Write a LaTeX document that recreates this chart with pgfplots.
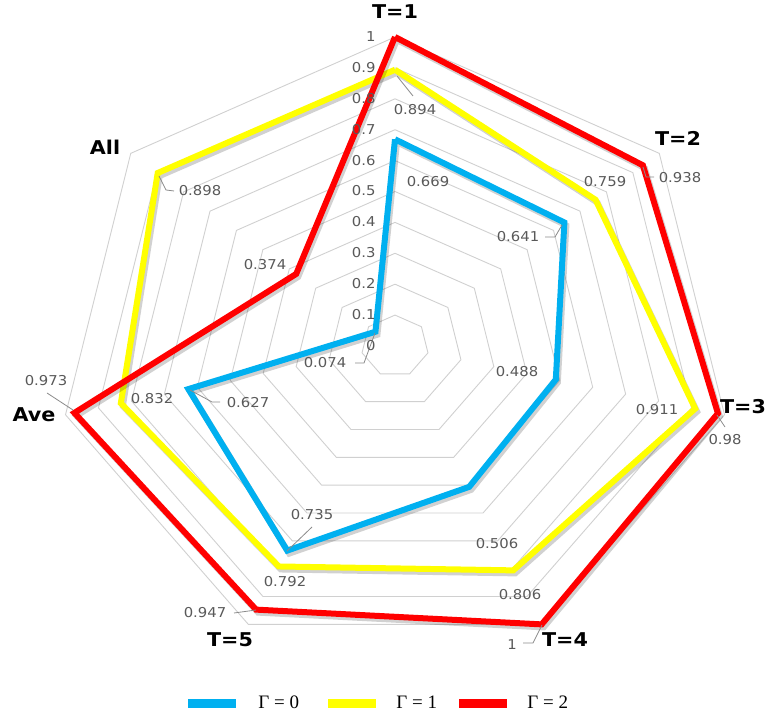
\documentclass[border=0pt]{standalone}
\usepackage{pgfplots}
\pgfplotsset{compat=1.18}
\usepackage{fontspec}
\setmainfont{DejaVu Sans}
\newfontfamily\legfont{Liberation Serif}
\definecolor{cblue}{HTML}{00B0F0}
\definecolor{cyellow}{HTML}{FFFF00}
\definecolor{cred}{HTML}{FF0000}
\definecolor{lblgray}{HTML}{595959}
\definecolor{gridgray}{HTML}{D0D0D0}
\begin{document}
\begin{tikzpicture}
\begin{axis}[
  hide axis, clip=false, enlargelimits=false,
  x=169pt, y=154.5pt,
  xmin=-1.16864, xmax=1.09763, ymin=-1.18447, ymax=1.11974,
]
% grid rings
\pgfplotsinvokeforeach{0.1,0.2,0.3,0.4,0.5,0.6,0.7,0.8,0.9,1}{
  \addplot[gridgray, line width=0.45pt, data cs=polar, forget plot]
    coordinates {(90,#1) (38.5714,#1) (-12.8571,#1) (-64.2857,#1) (-115.7143,#1) (-167.1429,#1) (141.4286,#1) (90,#1)};
}
% shadows
\addplot[black, opacity=0.18, line width=3pt, line join=miter, data cs=polar, xshift=1pt, yshift=-1.5pt, forget plot]
  coordinates {(90,0.669) (38.5714,0.641) (-12.8571,0.488) (-64.2857,0.506) (-115.7143,0.735) (-167.1429,0.627) (141.4286,0.074) (90,0.669)};
\addplot[cblue, line width=3pt, line join=miter, data cs=polar]
  coordinates {(90,0.669) (38.5714,0.641) (-12.8571,0.488) (-64.2857,0.506) (-115.7143,0.735) (-167.1429,0.627) (141.4286,0.074) (90,0.669)};
\addplot[black, opacity=0.18, line width=3pt, line join=miter, data cs=polar, xshift=1pt, yshift=-1.5pt, forget plot]
  coordinates {(90,0.894) (38.5714,0.759) (-12.8571,0.911) (-64.2857,0.806) (-115.7143,0.792) (-167.1429,0.832) (141.4286,0.898) (90,0.894)};
\addplot[cyellow, line width=3pt, line join=miter, data cs=polar]
  coordinates {(90,0.894) (38.5714,0.759) (-12.8571,0.911) (-64.2857,0.806) (-115.7143,0.792) (-167.1429,0.832) (141.4286,0.898) (90,0.894)};
\addplot[black, opacity=0.18, line width=3pt, line join=miter, data cs=polar, xshift=1pt, yshift=-1.5pt, forget plot]
  coordinates {(90,1) (38.5714,0.938) (-12.8571,0.98) (-64.2857,1) (-115.7143,0.947) (-167.1429,0.973) (141.4286,0.374) (90,1)};
\addplot[cred, line width=3pt, line join=miter, data cs=polar]
  coordinates {(90,1) (38.5714,0.938) (-12.8571,0.98) (-64.2857,1) (-115.7143,0.947) (-167.1429,0.973) (141.4286,0.374) (90,1)};
\end{axis}
\begin{scope}[x=0.5pt, y=-0.5pt, yshift=356pt]
  % leader lines
  \begin{scope}[lblgray!70, line width=0.4pt]
    \draw (397,76) -- (413,96);
    \draw (643,167) -- (646,177) -- (654,177);
    \draw (717,415) -- (725,427);
    \draw (542,625) -- (533,643) -- (523,643);
    \draw (256,610) -- (234,613);
    \draw (47,393) -- (73,410);
    \draw (159,176) -- (166,190) -- (174,191);
    \draw (375,333) -- (364,363) -- (355,363);
    \draw (190,390) -- (212,402) -- (220,402);
    \draw (287,551) -- (312,527);
    \draw (545,237) -- (555,237) -- (562,225);
  \end{scope}
  % tick labels
  \begin{scope}[every node/.style={font=\fontsize{6.8}{8}\selectfont, text=lblgray, anchor=east, inner sep=0pt, xscale=1.09}]
    \node at (376,37) {1};
    \node at (376,68) {0.9};
    \node at (376,99) {0.8};
    \node at (376,130) {0.7};
    \node at (376,161) {0.6};
    \node at (376,191) {0.5};
    \node at (376,222) {0.4};
    \node at (376,253) {0.3};
    \node at (376,284) {0.2};
    \node at (376,315) {0.1};
    \node at (376,346) {0};
  \end{scope}
  % data labels
  \begin{scope}[every node/.style={font=\fontsize{6.8}{8}\selectfont, text=lblgray, inner sep=0pt, xscale=1.09}]
    \node at (415,110) {0.894};
    \node at (428,182) {0.669};
    \node at (518,237) {0.641};
    \node at (605,182) {0.759};
    \node at (680,178) {0.938};
    \node at (517,372) {0.488};
    \node at (657,410) {0.911};
    \node at (725,440) {0.98};
    \node at (497,544) {0.506};
    \node at (520,595) {0.806};
    \node at (512,645) {1};
    \node at (312,515) {0.735};
    \node at (285,582) {0.792};
    \node at (205,613) {0.947};
    \node at (248,403) {0.627};
    \node at (152,399) {0.832};
    \node at (46,381) {0.973};
    \node at (265,265) {0.374};
    \node at (200,191) {0.898};
    \node at (325,363) {0.074};
  \end{scope}
  % category labels
  \begin{scope}[every node/.style={font=\fontsize{9.5}{11}\selectfont\bfseries, inner sep=0pt, xscale=1.09}]
    \node at (395,12) {T=1};
    \node at (678,138) {T=2};
    \node at (743,407) {T=3};
    \node at (565,640) {T=4};
    \node at (230,640) {T=5};
    \node at (34,415) {Ave};
    \node at (105,147) {All};
  \end{scope}
  % legend
  \fill[cblue] (188,699) rectangle (236,708);
  \fill[cyellow] (328,699) rectangle (376,708);
  \fill[cred] (459,699) rectangle (507,708);
  \begin{scope}[every node/.style={font=\legfont\fontsize{9.5}{10}\selectfont, inner sep=0pt, anchor=west}]
    \node at (258,702) {Γ = 0};
    \node at (396,702) {Γ = 1};
    \node at (527,702) {Γ = 2};
  \end{scope}
\end{scope}
\pgfresetboundingbox
\path (0,0) rectangle (383pt,356pt);
\end{tikzpicture}
\end{document}
